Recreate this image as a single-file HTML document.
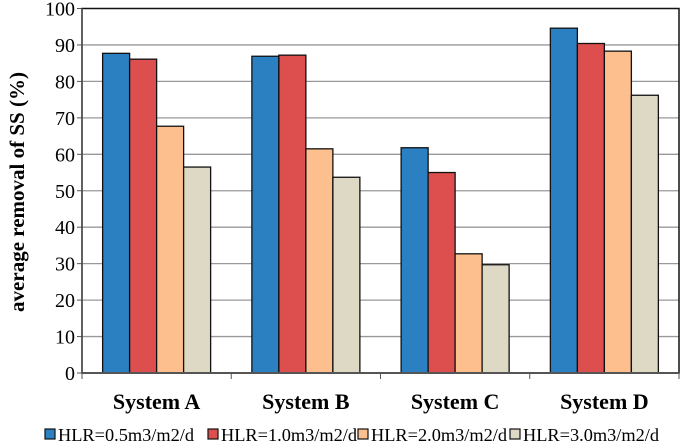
<!DOCTYPE html>
<html><head><meta charset="utf-8"><style>
body{margin:0;background:#fff}
svg{display:block;font-family:"Liberation Serif","Times New Roman",Times,"DejaVu Serif",serif}
svg text{font-family:"Liberation Serif","Times New Roman",Times,"DejaVu Serif",serif}
</style></head><body>
<svg id="chart" width="686" height="444">
<g id="grid"></g>
<g id="bars"></g>
<g id="axes"></g>
<text x="0" y="0" transform="translate(24,192) rotate(-90)" text-anchor="middle" font-size="21" font-weight="bold">average removal of SS (%)</text>
<g id="legend"></g>
</svg>
<script>
const categories=["System A","System B","System C","System D"];
const seriesNames=["HLR=0.5m3/m2/d","HLR=1.0m3/m2/d","HLR=2.0m3/m2/d","HLR=3.0m3/m2/d"];
const s1=[87.7,86.9,61.8,94.6];
const s2=[86.1,87.2,55.0,90.4];
const s3=[67.7,61.5,32.7,88.3];
const s4=[56.5,53.7,29.7,76.2];
const yTicks=[0,10,20,30,40,50,60,70,80,90,100];
const series=[s1,s2,s3,s4];
const colors=["#2a80c0","#dc4f4e","#fdbf8e","#ddd9c4"];
const NS="http://www.w3.org/2000/svg";
const L=82,R=679,T=8.5,B=373;
const y=v=>B-(v/100)*(B-T);
const cw=(R-L)/categories.length, bw=27, off=(cw-bw*4)/2;
const x=(ci,si)=>L+ci*cw+off+si*bw;
function mk(tag,attrs,parent){const e=document.createElementNS(NS,tag);for(const k in attrs)e.setAttribute(k,attrs[k]);parent.appendChild(e);return e;}
const grid=document.getElementById('grid'),bars=document.getElementById('bars'),axes=document.getElementById('axes'),legend=document.getElementById('legend');
yTicks.forEach(t=>{
  if(t>0&&t<100){const g=mk('line',{x1:L,x2:R,y1:y(t),y2:y(t),stroke:'#999','stroke-width':1.3},grid);
  
  }
  const tk=mk('line',{x1:L-5,x2:L,y1:y(t),y2:y(t),stroke:'#555','stroke-width':1},axes);
  
  
  const tx=mk('text',{x:L-7,y:y(t)+7,'text-anchor':'end','font-size':20},axes);
  tx.textContent=t;
  
  
});
series.forEach((s,si)=>s.forEach((v,ci)=>{
  const r=mk('rect',{x:x(ci,si),y:y(v),width:bw,height:B-y(v),fill:colors[si],stroke:'#111','stroke-width':1.3},bars);
  
  
}));
const fr=mk('rect',{x:L,y:T,width:R-L,height:B-T,fill:'none',stroke:'#111','stroke-width':1.5},axes);


const xa=mk('line',{x1:L,x2:R,y1:B,y2:B,stroke:'#555','stroke-width':2},axes);


const ya=mk('line',{x1:L,x2:L,y1:T,y2:B,stroke:'#555','stroke-width':1.5},axes);


for(let i=0;i<=categories.length;i++){
  const t=mk('line',{x1:L+i*cw,x2:L+i*cw,y1:B,y2:B+6,stroke:'#555','stroke-width':1},axes);
  
  
}
categories.forEach((c,ci)=>{
  const t=mk('text',{x:L+ci*cw+cw/2,y:409,'text-anchor':'middle','font-size':22,'font-weight':'bold'},axes);
  t.textContent=c;
  
  
});
const lx=[45,208,358,510];
seriesNames.forEach((n,i)=>{
  const r=mk('rect',{x:lx[i],y:429,width:10,height:10,fill:colors[i],stroke:'#111','stroke-width':1.2},legend);
  
  
  const t=mk('text',{x:lx[i]+13,y:441,'font-size':18,'textLength':136,'lengthAdjust':'spacingAndGlyphs'},legend);
  t.textContent=n;
  
  
});
</script>
</body></html>
